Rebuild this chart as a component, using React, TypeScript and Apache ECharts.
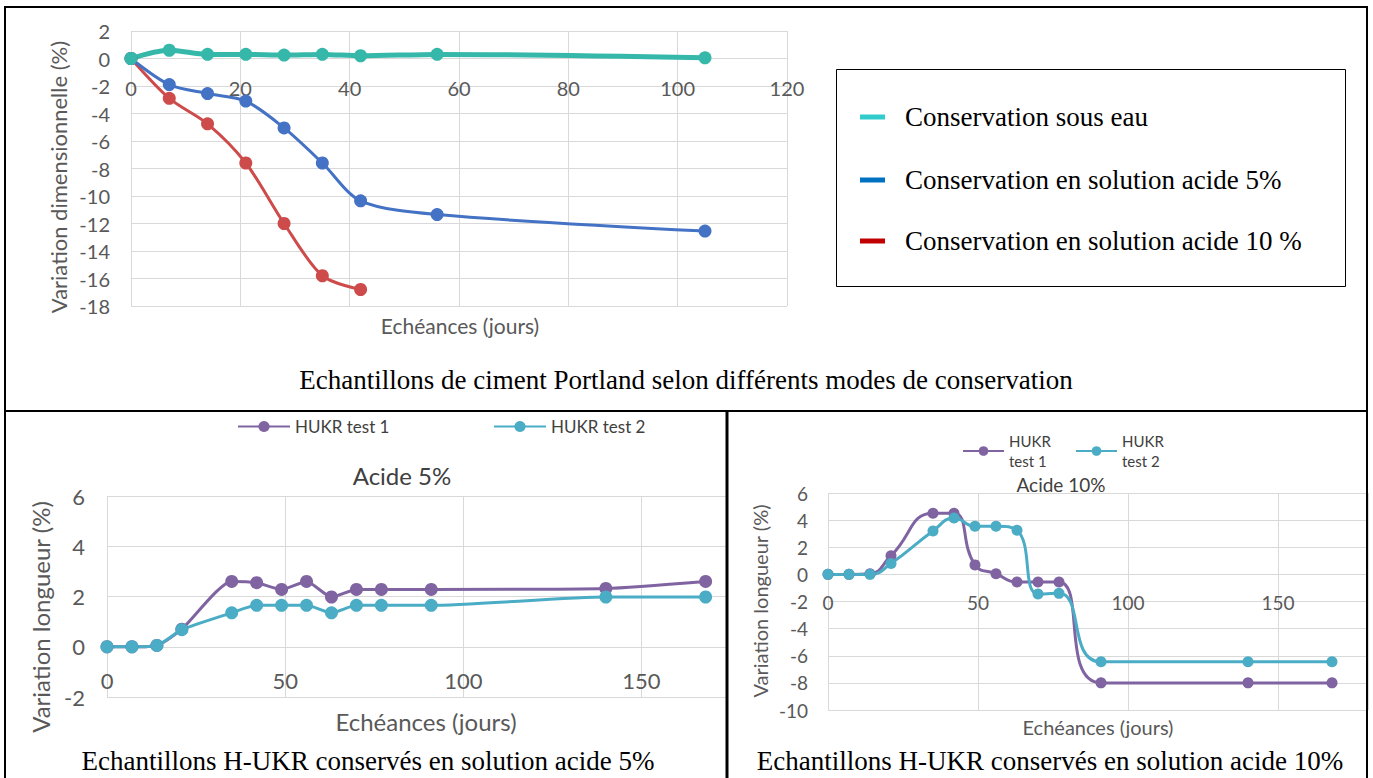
import React, { useEffect, useRef } from 'react';
import * as echarts from 'echarts';

// ---- Top chart: Portland cement ----
const portlandDays = [0, 7, 14, 21, 28, 35, 42, 56, 105];
const waterValues = [0, 0.6, 0.3, 0.3, 0.25, 0.3, 0.2, 0.3, 0.05];
const acid5Values = [0, -1.9, -2.55, -3.1, -5.05, -7.6, -10.35, -11.35, -12.55];
const acid10Days = [0, 7, 14, 21, 28, 35, 42];
const acid10Values = [0, -2.9, -4.75, -7.6, -12.0, -15.8, -16.8];
const topLegendLabels = [
  'Conservation sous eau',
  'Conservation en solution acide 5%',
  'Conservation en solution acide 10 %',
];
const topLegendColors = ['#33CCCC', '#0070C0', '#C00000'];

// ---- Bottom charts: H-UKR ----
const hukrDays = [0, 7, 14, 21, 35, 42, 49, 56, 63, 70, 77, 91, 140, 168];
const a5Test1 = [0, 0, 0.05, 0.7, 2.6, 2.55, 2.28, 2.6, 1.98, 2.28, 2.28, 2.28, 2.32, 2.6];
const a5Test2 = [0, 0, 0.05, 0.68, 1.35, 1.65, 1.65, 1.65, 1.35, 1.65, 1.65, 1.65, 1.98, 1.98];
const a10Test1 = [0, 0, 0.05, 1.38, 4.5, 4.5, 0.7, 0.05, -0.57, -0.57, -0.57, -8.0, -8.0, -8.0];
const a10Test2 = [0, 0, 0, 0.8, 3.2, 4.15, 3.55, 3.55, 3.25, -1.45, -1.4, -6.45, -6.45, -6.45];
const hukrNames = ['HUKR test 1', 'HUKR test 2'];

const pairs = (xs: number[], ys: number[]) => xs.map((x, i) => [x, ys[i]]);

const LABEL = '#595959';
const GRID = '#d9d9d9';
const SANS = 'Lato, "Open Sans", sans-serif';
const SERIF = '"Liberation Serif", "Times New Roman", serif';

const PURPLE = '#8064A2';
const TEAL2 = '#4BACC6';

export default function App() {
  const ref = useRef<HTMLDivElement>(null);

  useEffect(() => {
    if (!ref.current) return;
    const chart = echarts.init(ref.current, undefined, { renderer: 'svg' });

    // zeroOffset: distance (px) from grid bottom up to the y=0 line
    const xAx = (gi: number, max: number, interval: number, fs: number, margin: number, zeroOffset: number) => ({
      type: 'value',
      gridIndex: gi,
      position: 'bottom',
      offset: -zeroOffset,
      min: 0,
      max,
      interval,
      axisLine: { show: true, onZero: false, lineStyle: { color: GRID, width: 1 } },
      axisTick: { show: false },
      splitLine: { show: true, lineStyle: { color: GRID, width: 1 } },
      axisLabel: {
        color: LABEL,
        fontSize: fs,
        fontFamily: SANS,
        margin,
        showMaxLabel: max % interval === 0,
        formatter: (v: number) => (v % interval === 0 ? String(v) : ''),
      },
    });
    const yAx = (gi: number, min: number, max: number, fs: number, margin: number) => ({
      type: 'value',
      gridIndex: gi,
      min,
      max,
      interval: 2,
      axisLine: { show: false },
      axisTick: { show: false },
      splitLine: { show: true, lineStyle: { color: GRID, width: 1 } },
      axisLabel: { color: LABEL, fontSize: fs, fontFamily: SANS, margin },
    });

    const lineSeries = (
      name: string,
      data: number[][],
      color: string,
      xi: number,
      lw: number,
      ss: number,
      smooth: number | boolean
    ) => ({
      type: 'line',
      name,
      data,
      xAxisIndex: xi,
      yAxisIndex: xi,
      smooth,
      symbol: 'circle',
      symbolSize: ss,
      showSymbol: true,
      lineStyle: { color, width: lw },
      itemStyle: { color },
      z: 3,
    });

    const txt = (text: string, x: number, y: number, font: string, fill: string, rotate = 0) => ({
      type: 'text',
      x,
      y,
      rotation: rotate,
      z: 10,
      style: { text, x: 0, y: 0, font, fill, align: 'center', verticalAlign: 'middle' },
    });
    const ln = (x1: number, y1: number, x2: number, y2: number, w = 2) => ({
      type: 'line',
      z: 20,
      shape: { x1, y1, x2, y2 },
      style: { stroke: '#000', lineWidth: w },
    });

    const graphics: any[] = [
      // cell borders
      ln(5, 7, 1368, 7),
      ln(5, 6, 5, 778),
      ln(1367, 6, 1367, 778),
      ln(5, 411, 1368, 411),
      ln(727, 411, 727, 778, 3),
      // top legend box
      {
        type: 'rect',
        z: 10,
        shape: { x: 836.5, y: 69.5, width: 509, height: 217 },
        style: { fill: '#fff', stroke: '#000', lineWidth: 1 },
      },
      // titles
      txt('Variation dimensionnelle (%)', 58, 177, `22px ${SANS}`, LABEL, Math.PI / 2),
      txt('Echéances (jours)', 460, 325, `21px ${SANS}`, LABEL),
      txt('Echantillons de ciment Portland selon différents modes de conservation', 686, 380, `27px ${SERIF}`, '#000'),
      txt('Acide 5%', 402, 475, `24px ${SANS}`, '#404040'),
      txt('Variation longueur (%)', 40, 617, `24px ${SANS}`, LABEL, Math.PI / 2),
      txt('Echéances (jours)', 426, 721, `24px ${SANS}`, LABEL),
      txt('Echantillons H-UKR conservés en solution acide 5%', 368, 761, `27px ${SERIF}`, '#000'),
      txt('Acide 10%', 1061, 484, `19px ${SANS}`, '#404040'),
      txt('Variation longueur (%)', 760, 601, `20px ${SANS}`, LABEL, Math.PI / 2),
      txt('Echéances (jours)', 1098, 727, `20px ${SANS}`, LABEL),
      txt('Echantillons H-UKR conservés en solution acide 10%', 1050, 761, `27px ${SERIF}`, '#000'),
    ];
    const legendYs = [117, 180, 241];
    topLegendLabels.forEach((label, i) => {
      graphics.push({
        type: 'rect',
        z: 11,
        shape: { x: 860, y: legendYs[i] - 2.5, width: 25, height: 5 },
        style: { fill: topLegendColors[i] },
      });
      graphics.push({
        type: 'text',
        z: 11,
        x: 905,
        y: legendYs[i],
        style: { text: label, x: 0, y: 0, font: `27px ${SERIF}`, fill: '#000', align: 'left', verticalAlign: 'middle' },
      });
    });

    const legendBase = {
      orient: 'horizontal',
      padding: 0,
      itemGap: 0,
      selectedMode: false,
      textStyle: { color: '#404040', fontFamily: SANS },
    };

    chart.setOption({
      animation: false,
      backgroundColor: '#fff',
      textStyle: { fontFamily: SANS },
      grid: [
        { left: 131, top: 31, width: 656, height: 275, containLabel: false },
        { left: 107, top: 496, width: 620, height: 201, containLabel: false },
        { left: 828, top: 493, width: 540, height: 217, containLabel: false },
      ],
      xAxis: [
        xAx(0, 120, 20, 20, 19.5, 247.5),
        xAx(1, 174, 50, 22, 23, 50.25),
        xAx(2, 180, 50, 19, 19, 135.6),
      ],
      yAxis: [yAx(0, -18, 2, 20, 21), yAx(1, -2, 6, 22, 22), yAx(2, -10, 6, 19, 20)],
      legend: [
        {
          ...legendBase,
          data: [hukrNames[0]],
          left: 237,
          top: 418,
          itemWidth: 52,
          itemHeight: 14,
          textStyle: { ...legendBase.textStyle, fontSize: 17 },
        },
        {
          ...legendBase,
          data: [hukrNames[1]],
          left: 493,
          top: 418,
          itemWidth: 52,
          itemHeight: 14,
          textStyle: { ...legendBase.textStyle, fontSize: 17 },
        },
        {
          ...legendBase,
          data: [hukrNames[0]],
          left: 962,
          top: 431,
          itemWidth: 41,
          itemHeight: 12,
          formatter: (n: string) => n.replace('HUKR ', 'HUKR\n'),
          textStyle: { ...legendBase.textStyle, fontSize: 15, lineHeight: 20 },
        },
        {
          ...legendBase,
          data: [hukrNames[1]],
          left: 1075,
          top: 431,
          itemWidth: 41,
          itemHeight: 12,
          formatter: (n: string) => n.replace('HUKR ', 'HUKR\n'),
          textStyle: { ...legendBase.textStyle, fontSize: 15, lineHeight: 20 },
        },
      ],
      series: [
        lineSeries(topLegendLabels[2], pairs(acid10Days, acid10Values), '#CD4B4B', 0, 3, 13, 0.3),
        lineSeries(topLegendLabels[1], pairs(portlandDays, acid5Values), '#4472C4', 0, 3, 13, 0.3),
        lineSeries(topLegendLabels[0], pairs(portlandDays, waterValues), '#35B8AA', 0, 5, 13, 0.3),
        lineSeries(hukrNames[0], pairs(hukrDays, a5Test1), PURPLE, 1, 3, 13, 0.2),
        lineSeries(hukrNames[1], pairs(hukrDays, a5Test2), TEAL2, 1, 3, 13, 0.2),
        lineSeries(hukrNames[0], pairs(hukrDays, a10Test1), PURPLE, 2, 3, 11, 0.5),
        lineSeries(hukrNames[1], pairs(hukrDays, a10Test2), TEAL2, 2, 3, 11, 0.5),
      ],
      graphic: { elements: graphics },
    });

    return () => chart.dispose();
  }, []);

  return (
    <div
      ref={ref}
      style={{ position: 'fixed', left: 0, top: 0, width: 1373, height: 778, background: '#fff' }}
    />
  );
}
